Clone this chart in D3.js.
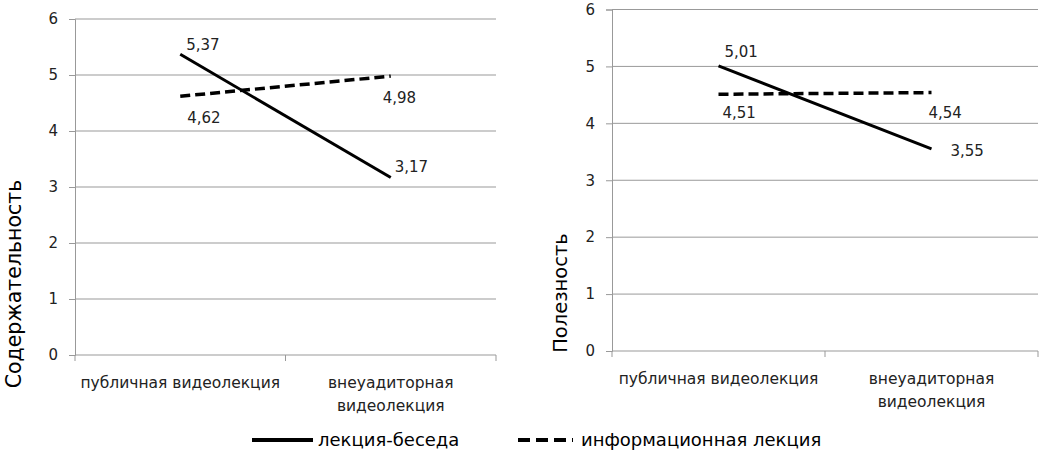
<!DOCTYPE html>
<html>
<head>
<meta charset="utf-8">
<script src="https://cdn.jsdelivr.net/npm/d3@7"></script>
<style>
  body { margin: 0; background: #fff; }
  svg { display: block; font-family: "DejaVu Sans", Verdana, sans-serif; }
</style>
</head>
<body>
<svg width="1043" height="454"></svg>
<script>
// data
const categories = [['публичная видеолекция'], ['внеуадиторная', 'видеолекция']];
const seriesNames = ['лекция-беседа', 'информационная лекция'];
const contentTalk = [5.37, 3.17];
const contentInfo = [4.62, 4.98];
const usefulTalk = [5.01, 3.55];
const usefulInfo = [4.51, 4.54];
const yTicks = [0, 1, 2, 3, 4, 5, 6];

const svg = d3.select('svg');
const fmt = v => d3.format('.2f')(v).replace('.', ',');

// one panel = one chart
const panels = [
  { title: 'Содержательность', series: [contentTalk, contentInfo],
    left: 75, right: 496, top: 19, bottom: 355, titleX: 21, titleY: 284, titleSize: 20.5,
    // label offsets [dx, dy] per series / point
    offs: [[[6, -4], [4, -5]], [[7, 27], [-8, 27]]] },
  { title: 'Полезность', series: [usefulTalk, usefulInfo],
    left: 612, right: 1038, top: 9.5, bottom: 351, titleX: 567, titleY: 293, titleSize: 19.5,
    offs: [[[6, -9], [19, 7]], [[4, 24], [-3, 25]]] }
];

const dashes = [null, '10,5'];

panels.forEach(p => {
  const x = d3.scaleBand().domain(d3.range(categories.length)).range([p.left, p.right]);
  const y = d3.scaleLinear().domain([0, 6]).range([p.bottom, p.top]);
  const g = svg.append('g');

  // gridlines
  g.append('g').selectAll('line').data(yTicks.slice(1)).enter().append('line')
    .attr('x1', p.left).attr('x2', p.right)
    .attr('y1', d => y(d)).attr('y2', d => y(d))
    .attr('stroke', '#999').attr('stroke-width', 1);

  // y axis
  const ya = g.append('g').attr('transform', `translate(${p.left},0)`)
    .call(d3.axisLeft(y).tickValues(yTicks).tickFormat(d3.format('d')).tickSize(6).tickPadding(11));
  ya.select('.domain').attr('stroke', '#999');
  ya.selectAll('.tick line').attr('stroke', '#999');
  ya.selectAll('.tick text').attr('font-size', 15).attr('fill', '#222')
    .attr('font-family', '"DejaVu Sans", Verdana, sans-serif');

  // x axis
  const xa = g.append('g').attr('transform', `translate(0,${p.bottom})`);
  xa.append('line').attr('x1', p.left).attr('x2', p.right)
    .attr('stroke', '#999');
  xa.selectAll('line.tk').data(d3.range(categories.length + 1)).enter().append('line')
    .attr('class', 'tk')
    .attr('x1', i => p.left + i * x.bandwidth()).attr('x2', i => p.left + i * x.bandwidth())
    .attr('y1', 0).attr('y2', 6).attr('stroke', '#999');
  xa.selectAll('text').data(categories).enter().append('text')
    .attr('text-anchor', 'middle').attr('font-size', 15.5).attr('fill', '#222')
    .attr('transform', (d, i) => `translate(${x(i) + x.bandwidth() / 2},0)`)
    .selectAll('tspan').data(d => d).enter().append('tspan')
    .attr('x', 0).attr('y', (d, j) => 33 + j * 23)
    .text(d => d);

  // y title
  g.append('text')
    .attr('transform', `translate(${p.titleX},${p.titleY}) rotate(-90)`)
    .attr('text-anchor', 'middle').attr('font-size', p.titleSize).attr('fill', '#000')
    .text(p.title);

  // lines
  const line = d3.line().x((d, i) => x(i) + x.bandwidth() / 2).y(d => y(d));
  p.series.forEach((s, k) => {
    g.append('path').datum(s)
      .attr('d', line)
      .attr('fill', 'none').attr('stroke', '#000')
      .attr('stroke-width', k === 0 ? 3 : 3.5)
      .attr('stroke-dasharray', dashes[k]);
    g.selectAll(null).data(s).enter().append('text')
      .attr('x', (d, i) => x(i) + x.bandwidth() / 2 + p.offs[k][i][0])
      .attr('y', (d, i) => y(d) + p.offs[k][i][1])
      .attr('font-size', 15).attr('fill', '#222')
      .text(d => fmt(d));
  });
});

// legend
const legend = [
  { x1: 252, x2: 313, tx: 318 },
  { x1: 518, x2: 573, tx: 581 }
];
const lg = svg.append('g');
seriesNames.forEach((n, k) => {
  lg.append('line').attr('x1', legend[k].x1).attr('x2', legend[k].x2)
    .attr('y1', 440).attr('y2', 440)
    .attr('stroke', '#000').attr('stroke-width', 4)
    .attr('stroke-dasharray', k === 0 ? null : '12,6');
  lg.append('text').attr('x', legend[k].tx).attr('y', 446)
    .attr('font-size', 18).attr('fill', '#000').text(n);
});
</script>
</body>
</html>
